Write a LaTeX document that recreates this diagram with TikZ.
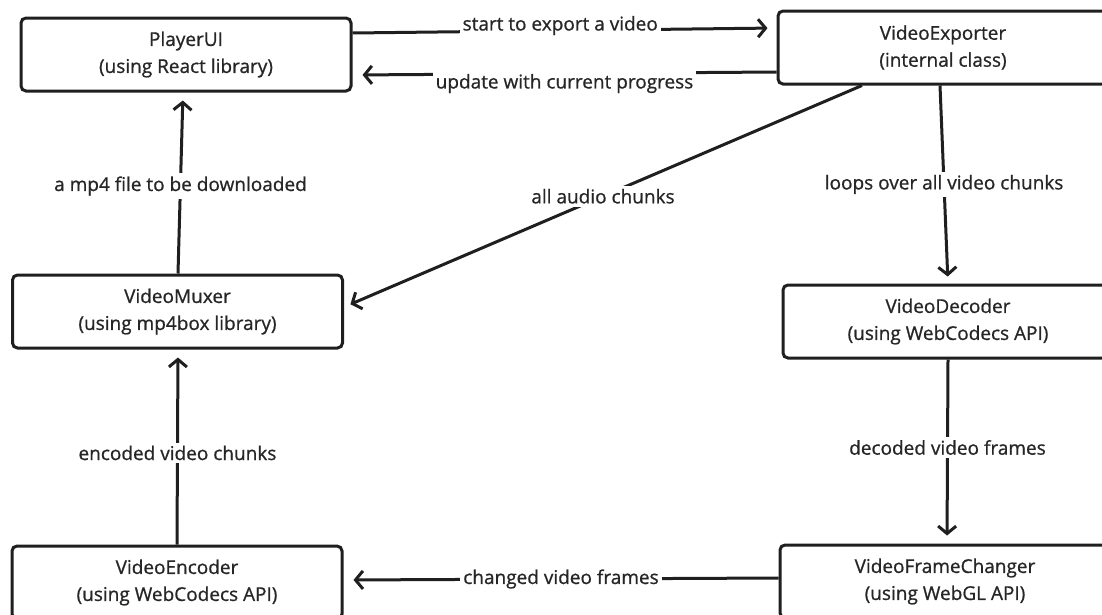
\documentclass[tikz,border=0pt]{standalone}
\usepackage{fontspec}
\setmainfont{Open Sans}[FakeBold=0.8]
\usetikzlibrary{arrows.meta}

\tikzset{
  comp/.style={draw=black!88, line width=3pt, rounded corners=5pt, fill=white,
    minimum width=330pt, minimum height=73pt, align=center,
    font=\fontsize{19}{27}\selectfont, text=black!85},
  flow/.style={draw=black!88, line width=3pt,
    -{Straight Barb[length=7.5pt,width=18pt,line width=3pt]}},
  lbl/.style={fill=white, inner sep=3pt, font=\fontsize{19}{21}\selectfont, text=black!85}
}

\begin{document}
\begin{tikzpicture}[x=1pt, y=-1pt]
  \useasboundingbox (0,0) rectangle (1102,614);
  \clip (0,0) rectangle (1102,614);

  % components
  \node[comp] (pui) at (186,54.5) {PlayerUI\\(using React library)};
  \node[comp] (vex) at (943,47.5) {VideoExporter\\(internal class)};
  \node[comp] (vmx) at (177.5,311.5) {VideoMuxer\\(using mp4box library)};
  \node[comp] (vdc) at (948,321.5) {VideoDecoder\\(using WebCodecs API)};
  \node[comp] (ven) at (177,582.5) {VideoEncoder\\(using WebCodecs API)};
  \node[comp] (vfc) at (945,581.5) {VideoFrameChanger\\(using WebGL API)};

  % data flow
  \draw[flow, shorten >=9pt] ([yshift=21.5pt]pui.east) -- ([yshift=19.5pt]vex.west)
    node[lbl, pos=0.49, yshift=5pt] {start to export a video};
  \draw[flow, shorten >=10pt] ([yshift=-24.5pt]vex.west) -- ([yshift=-20.5pt]pui.east)
    node[lbl, pos=0.5, yshift=-10pt] {update with current progress};
  \draw[flow, shorten >=7pt] ([xshift=-81pt]vex.south) -- ([yshift=4.5pt]vmx.east)
    node[lbl, pos=0.5] {all audio chunks};
  \draw[flow, shorten >=7pt] ([xshift=-3pt]vex.south) -- (vdc.north)
    node[lbl, pos=0.51, yshift=2pt] {loops over all video chunks};
  \draw[flow, shorten >=8pt] ([xshift=0.5pt]vmx.north) -- ([xshift=-3pt]pui.south)
    node[lbl, pos=0.5, yshift=-3pt] {a mp4 file to be downloaded};
  \draw[flow, shorten >=8pt] (ven.north) -- ([xshift=0.5pt]vmx.south)
    node[lbl, pos=0.48, yshift=-2pt] {encoded video chunks};
  \draw[flow, shorten >=8pt] (vdc.south) -- ([xshift=2pt]vfc.north)
    node[lbl, pos=0.5, yshift=4pt] {decoded video frames};
  \draw[flow, shorten >=10pt] ([yshift=3.5pt]vfc.west) -- ([yshift=2.5pt]ven.east)
    node[lbl, pos=0.5] {changed video frames};
\end{tikzpicture}
\end{document}
